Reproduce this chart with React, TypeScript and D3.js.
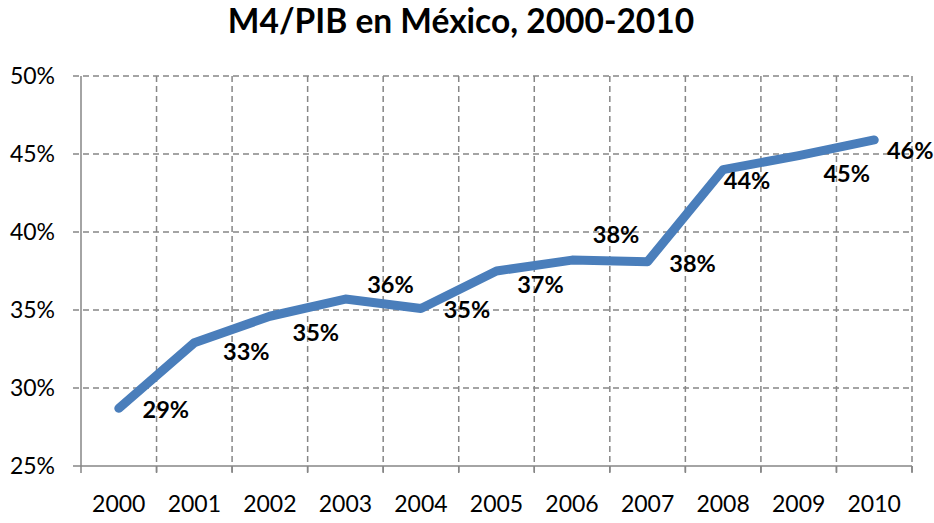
import React from "react";
import * as d3 from "d3";

const years = ["2000","2001","2002","2003","2004","2005","2006","2007","2008","2009","2010"];
const values = [28.7, 32.9, 34.6, 35.7, 35.1, 37.5, 38.2, 38.1, 44.0, 44.9, 45.9];
const labels = ["29%","33%","35%","36%","35%","37%","38%","38%","44%","45%","46%"];
const yTicks = [25, 30, 35, 40, 45, 50];
// label offsets (layout)
const labelDx = [47, 52, 46, 45, 46, 44, 44, 45, 24, 48, 36];
const labelDy = [2, 9, 17, -14, 2, 14, -25, 2, 11, 18, 11];

const W = 934, H = 523;
const M = { left: 81, right: 22, top: 76, bottom: 57 };

export default function App() {
  const x = d3.scaleBand().domain(years).range([M.left, W - M.right]).paddingInner(0).paddingOuter(0);
  const y = d3.scaleLinear().domain([25, 50]).range([H - M.bottom, M.top]);
  const cx = (d: string) => (x(d) as number) + x.bandwidth() / 2;
  const line = d3.line<number>().x((_, i) => cx(years[i])).y((v) => y(v));
  const font = "Lato, 'Open Sans', sans-serif";
  const grid = "#868686";
  const bottom = y(25);
  const boundaries = years.map((d) => x(d) as number).concat([W - M.right]);
  return (
    <svg width={W} height={H} style={{ position: "absolute", left: 0, top: 0, background: "#fff" }}>
      <text x={461} y={33} textAnchor="middle" fontFamily={font} fontWeight="bold" fontSize={33.5} fill="#000">
        M4/PIB en México, 2000-2010
      </text>
      {yTicks.filter((t) => t !== 25).map((t) => (
        <line key={"h" + t} x1={M.left - 8} x2={W - M.right} y1={y(t)} y2={y(t)} stroke={grid} strokeWidth={1.5} strokeDasharray="6,4" />
      ))}
      {boundaries.slice(1).map((b, i) => (
        <line key={"v" + i} x1={b} x2={b} y1={M.top} y2={bottom + 7} stroke={grid} strokeWidth={1.5} strokeDasharray="6,4" />
      ))}
      {boundaries.map((b, i) => (
        <line key={"t" + i} x1={b} x2={b} y1={bottom} y2={bottom + 7} stroke={grid} strokeWidth={1.5} />
      ))}
      <line x1={M.left} x2={M.left} y1={M.top} y2={bottom} stroke={grid} strokeWidth={1.5} />
      <line x1={M.left - 8} x2={W - M.right} y1={bottom} y2={bottom} stroke={grid} strokeWidth={1.5} />
      {yTicks.map((t) => (
        <text key={"yl" + t} x={55} y={y(t) + 8} textAnchor="end" fontFamily={font} fontSize={23} fill="#000">
          {t}%
        </text>
      ))}
      {years.map((d) => (
        <text key={"xl" + d} x={cx(d)} y={512} textAnchor="middle" fontFamily={font} fontSize={23} fill="#000">
          {d}
        </text>
      ))}
      <path d={line(values) || ""} fill="none" stroke="#4A7EBB" strokeWidth={9} strokeLinecap="round" strokeLinejoin="round" />
      {values.map((v, i) => (
        <text key={"dl" + i} x={cx(years[i]) + labelDx[i]} y={y(v) + labelDy[i] + 8} textAnchor="middle" fontFamily={font} fontWeight="bold" fontSize={23.5} fill="#000">
          {labels[i]}
        </text>
      ))}
    </svg>
  );
}
